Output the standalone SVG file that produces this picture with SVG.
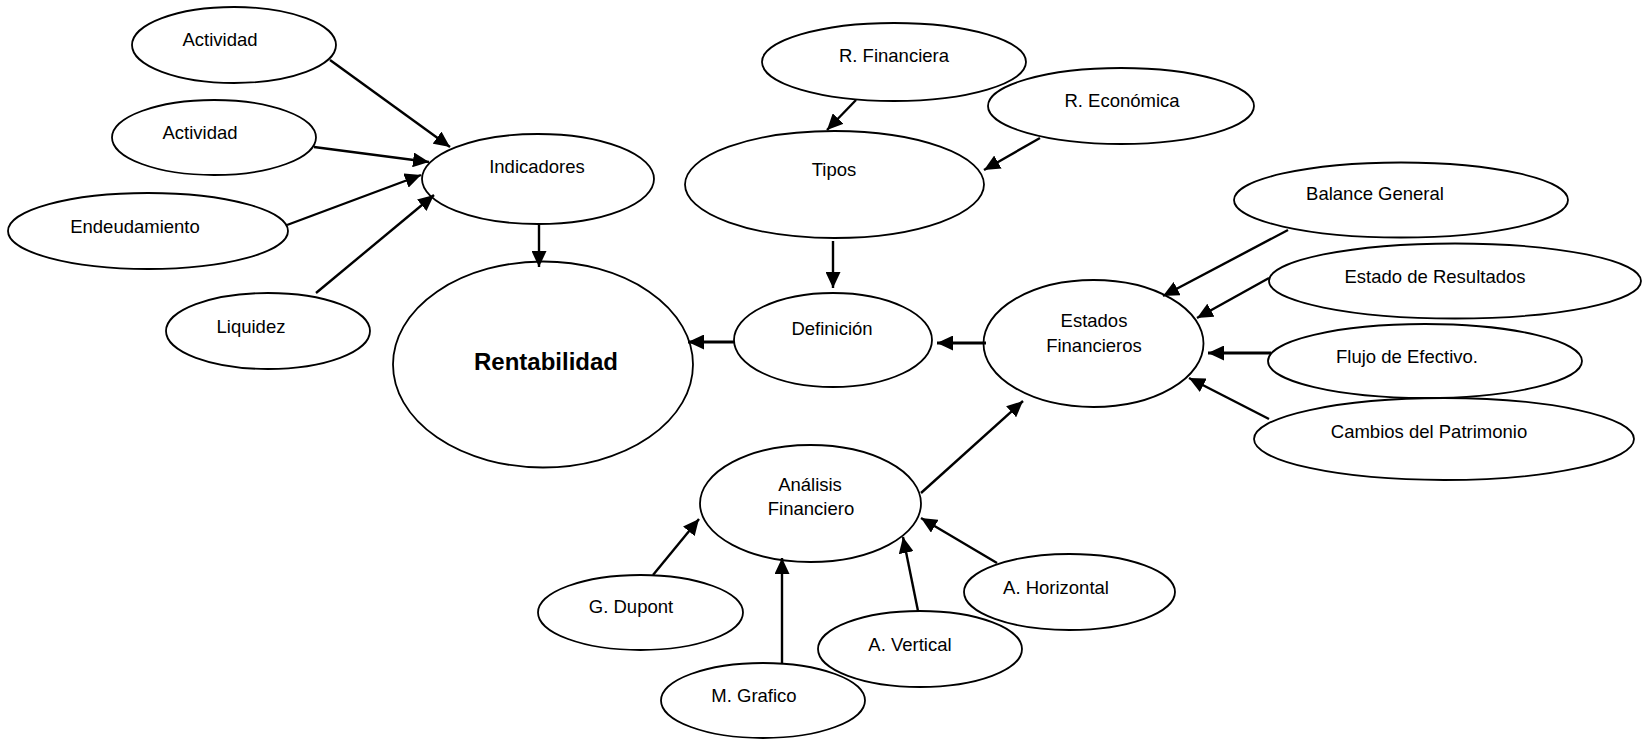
<svg xmlns="http://www.w3.org/2000/svg" width="1648" height="739" viewBox="0 0 1648 739">
<style>
ellipse{fill:#fff;stroke:#000;stroke-width:1.8}
text{font-family:"Liberation Sans",Arial,sans-serif;font-size:18.5px;fill:#000;text-anchor:middle}
.big{font-size:24px;font-weight:bold}
.c line{stroke:#000;stroke-width:2.4;marker-end:url(#ah)}
.c line.thick{stroke-width:3.2}
</style>
<defs>
<marker id="ah" markerUnits="userSpaceOnUse" markerWidth="17" markerHeight="15" refX="16" refY="7.5" orient="auto">
<path d="M0,0 L16,7.5 L0,15 z" fill="#000"/>
</marker>
</defs>
<rect width="1648" height="739" fill="#fff"/>
<g id="n-actividad1"><ellipse cx="234" cy="45" rx="102" ry="38"/><text x="220" y="46">Actividad</text></g>
<g id="n-actividad2"><ellipse cx="214" cy="137.5" rx="102" ry="37.5"/><text x="200" y="139">Actividad</text></g>
<g id="n-endeudamiento"><ellipse cx="148" cy="231" rx="140" ry="38"/><text x="135" y="233">Endeudamiento</text></g>
<g id="n-liquidez"><ellipse cx="268" cy="331" rx="102" ry="38"/><text x="251" y="333">Liquidez</text></g>
<g id="n-indicadores"><ellipse cx="538" cy="179" rx="116" ry="45"/><text x="537" y="173">Indicadores</text></g>
<g id="n-rentabilidad"><ellipse cx="543" cy="364.5" rx="150" ry="103"/><text class="big" x="546" y="370">Rentabilidad</text></g>
<g id="n-rfinanciera"><ellipse cx="894" cy="62" rx="132" ry="39"/><text x="894" y="62">R. Financiera</text></g>
<g id="n-reconomica"><ellipse cx="1121" cy="106" rx="133" ry="38"/><text x="1122" y="107">R. Económica</text></g>
<g id="n-tipos"><ellipse cx="834.5" cy="184.5" rx="149.5" ry="53.5"/><text x="834" y="176">Tipos</text></g>
<g id="n-definicion"><ellipse cx="833" cy="340" rx="99" ry="47"/><text x="832" y="335">Definición</text></g>
<g id="n-estados"><ellipse cx="1093.5" cy="343.5" rx="110" ry="63.5"/><text x="1094" y="327">Estados</text><text x="1094" y="352">Financieros</text></g>
<g id="n-balance"><ellipse cx="1401" cy="200" rx="167" ry="37.5"/><text x="1375" y="200">Balance General</text></g>
<g id="n-resultados"><ellipse cx="1455" cy="281" rx="186" ry="37.5"/><text x="1435" y="283">Estado de Resultados</text></g>
<g id="n-flujo"><ellipse cx="1425" cy="361" rx="157" ry="37"/><text x="1407" y="363">Flujo de Efectivo.</text></g>
<g id="n-cambios"><ellipse cx="1444" cy="439" rx="190" ry="41"/><text x="1429" y="438">Cambios del Patrimonio</text></g>
<g id="n-analisis"><ellipse cx="810.5" cy="503.5" rx="110.5" ry="58.5"/><text x="810" y="491">Análisis</text><text x="811" y="515">Financiero</text></g>
<g id="n-dupont"><ellipse cx="640.5" cy="612.5" rx="102.5" ry="37.5"/><text x="631" y="613">G. Dupont</text></g>
<g id="n-grafico"><ellipse cx="763" cy="700.5" rx="102" ry="37.5"/><text x="754" y="702">M. Grafico</text></g>
<g id="n-vertical"><ellipse cx="920" cy="649" rx="102" ry="38"/><text x="910" y="651">A. Vertical</text></g>
<g id="n-horizontal"><ellipse cx="1069.5" cy="592" rx="105.5" ry="38"/><text x="1056" y="594">A. Horizontal</text></g>
<g id="connectors" class="c">
<line x1="330" y1="60" x2="450" y2="147"/>
<line x1="314" y1="147" x2="429" y2="162"/>
<line x1="287" y1="225" x2="421" y2="175"/>
<line x1="316" y1="293" x2="434" y2="195"/>
<line x1="539" y1="225" x2="539" y2="267"/>
<line x1="856" y1="100" x2="827" y2="130"/>
<line x1="1040" y1="138" x2="984" y2="170"/>
<line x1="833" y1="241" x2="833" y2="288"/>
<line class="thick" x1="734" y1="342" x2="688" y2="342"/>
<line class="thick" x1="986" y1="343" x2="937" y2="343"/>
<line x1="1288" y1="230" x2="1163" y2="296"/>
<line x1="1269" y1="278" x2="1197" y2="318"/>
<line class="thick" x1="1271" y1="353" x2="1208" y2="353"/>
<line x1="1269" y1="419" x2="1189" y2="378"/>
<line x1="921" y1="493" x2="1023" y2="401"/>
<line x1="653" y1="575" x2="699" y2="519"/>
<line x1="782" y1="664" x2="782" y2="558"/>
<line x1="918" y1="611" x2="903" y2="537"/>
<line x1="997" y1="563" x2="921" y2="518"/>
</g>
</svg>
